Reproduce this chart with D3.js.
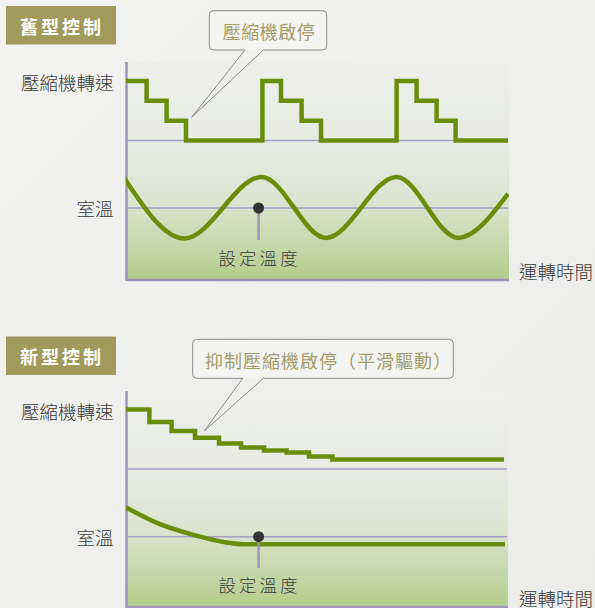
<!DOCTYPE html>
<html><head><meta charset="utf-8">
<script src="https://cdn.jsdelivr.net/npm/d3@7"></script>
<style>
html,body{margin:0;padding:0;background:#eeeeec;}
svg{display:block;}
text{font-family:"Noto Sans CJK TC","Noto Sans CJK SC",sans-serif;}
</style></head>
<body>
<svg id="c" width="595" height="608"></svg>
<script>
// ---------- data ----------
const panelTitles = ["舊型控制", "新型控制"];
const calloutTexts = ["壓縮機啟停", "抑制壓縮機啟停（平滑驅動）"];
const speedLabel = "壓縮機轉速";
const tempLabel = "室溫";
const timeLabel = "運轉時間";
const setpointLabel = "設定溫度";

// time in minutes (arbitrary units), speed level 0..3
const oldSpeedTimes  = [0, 10.3, 20.3, 30, 68.2, 77.5, 87.8, 97.5, 135.3, 145.3, 155.3, 164.8, 191];
const oldSpeedLevels = [3, 2, 1, 0, 3, 2, 1, 0, 3, 2, 1, 0, 0];
const newSpeedTimes  = [0, 11.7, 22.8, 34.5, 46.5, 57.5, 69, 80.3, 91.5, 103.2, 189];
const newSpeedLevels = [3.0, 2.37, 1.92, 1.58, 1.28, 1.08, 0.93, 0.83, 0.63, 0.48, 0.48];

// room temperature deviation from setpoint (relative units)
const oldTempTimes  = [-1, 29.2, 67.8, 100, 135.3, 166, 191];
const oldTempValues = [0.99, -1.0, 1.02, -0.98, 1.02, -0.98, 0.46];
const newTempTimes  = [0, 17, 33.7, 50.3, 58.7, 189.5];
const newTempValues = [0.96, 0.41, 0.06, -0.19, -0.25, -0.25];

const setpointTime = 66.3;
const setpointValue = 0;

// ---------- drawing ----------
const svg = d3.select("#c");
const green = "#6a8e0b", axisCol = "#9b94bb", gridCol = "#a49ec4";

const defs = svg.append("defs");
const bg = defs.append("linearGradient").attr("id","bg").attr("x1",0).attr("y1",0).attr("x2",1).attr("y2",1);
bg.append("stop").attr("offset","0%").attr("stop-color","#f2f2f1");
bg.append("stop").attr("offset","100%").attr("stop-color","#ececea");
svg.append("rect").attr("width",595).attr("height",608).attr("fill","url(#bg)");

const pg = defs.append("linearGradient").attr("id","pg").attr("x1",0).attr("y1",0).attr("x2",0).attr("y2",1);
[[0,"#eeefec"],[0.36,"#e8ebe3"],[0.65,"#dbe4cf"],[1,"#b2cd8b"]].forEach(([o,c])=>
  pg.append("stop").attr("offset",o).attr("stop-color",c));

const panels = [
  { top:0, plotTop:62, baseY:140.5, setY:208, bottom:280, right:509,
    speedT:oldSpeedTimes, speedV:oldSpeedLevels, tempT:oldTempTimes, tempV:oldTempValues,
    callout:{x:209.3,y:10.7,w:117.4,h:39.3,p1:245,p2:263.3,tipX:191.7,tipY:117.3,tx:269},
    stemEnd:240, setLblY:257 },
  { top:330.5, plotTop:391, baseY:469, setY:536.7, bottom:607, right:508,
    speedT:newSpeedTimes, speedV:newSpeedLevels, tempT:newTempTimes, tempV:newTempValues,
    callout:{x:192.7,y:339.3,w:260.6,h:39,p1:242.7,p2:263.3,tipX:204.3,tipY:431,tx:328.5},
    stemEnd:568, setLblY:584 }
];

const x = d3.scaleLinear().domain([0,191]).range([126,508]);

panels.forEach((P,i)=>{
  const g = svg.append("g");
  const ySpeed = d3.scaleLinear().domain([0,3]).range([P.baseY, P.baseY-59.5]);
  const yTemp = d3.scaleLinear().domain([-1,1]).range([P.setY+30.5, P.setY-30.5]);

  // title box
  g.append("rect").attr("x",6).attr("y",P.top+6).attr("width",110).attr("height",38.5).attr("fill","#a29a5d");
  g.append("text").attr("x",62).attr("y",P.top+25.5).attr("text-anchor","middle").attr("dominant-baseline","central")
    .attr("fill","#fff").attr("font-size",18).attr("font-weight","bold").attr("letter-spacing",3)
    .text(panelTitles[i]);

  // plot area
  const cid = "clip"+i;
  defs.append("clipPath").attr("id",cid).append("rect")
    .attr("x",126).attr("y",P.plotTop).attr("width",P.right-126).attr("height",P.bottom-P.plotTop);
  g.append("rect").attr("x",126).attr("y",P.plotTop).attr("width",P.right-126).attr("height",P.bottom-P.plotTop)
    .attr("fill","url(#pg)");

  // reference lines (speed baseline and setpoint)
  g.append("line").attr("x1",126).attr("x2",P.right-1).attr("y1",P.baseY).attr("y2",P.baseY)
    .attr("stroke",gridCol).attr("stroke-width",1.5);
  g.append("line").attr("x1",126).attr("x2",P.right-1).attr("y1",yTemp(setpointValue)).attr("y2",yTemp(setpointValue))
    .attr("stroke",gridCol).attr("stroke-width",1.5);

  // axes
  g.append("line").attr("x1",126.5).attr("x2",126.5).attr("y1",P.plotTop).attr("y2",P.bottom+1)
    .attr("stroke",axisCol).attr("stroke-width",2.5);
  g.append("line").attr("x1",126).attr("x2",P.right).attr("y1",P.bottom).attr("y2",P.bottom)
    .attr("stroke",axisCol).attr("stroke-width",2.5);

  // speed step line
  const sData = P.speedT.map((t,k)=>[t,P.speedV[k]]);
  g.append("path").attr("d", d3.line().x(d=>x(d[0])).y(d=>ySpeed(d[1])).curve(d3.curveStepAfter)(sData))
    .attr("fill","none").attr("stroke",green).attr("stroke-width",4.5).attr("stroke-linejoin","miter");

  // temperature curve
  const tData = P.tempT.map((t,k)=>[t,P.tempV[k]]);
  g.append("path").attr("clip-path",`url(#${cid})`)
    .attr("d", d3.line().x(d=>x(d[0])).y(d=>yTemp(d[1])).curve(d3.curveMonotoneX)(tData))
    .attr("fill","none").attr("stroke",green).attr("stroke-width",4.5).attr("stroke-linecap","butt");

  // setpoint marker
  const sx = x(setpointTime), sy = yTemp(setpointValue);
  g.append("line").attr("x1",sx).attr("x2",sx).attr("y1",sy).attr("y2",P.stemEnd)
    .attr("stroke","#9d97b5").attr("stroke-width",2.5);
  g.append("circle").attr("cx",sx).attr("cy",sy).attr("r",5.5).attr("fill","#333");
  g.append("text").attr("x",sx+1).attr("y",P.setLblY).attr("text-anchor","middle").attr("dominant-baseline","central")
    .attr("fill","#3a3a3a").attr("font-size",17.5).attr("font-weight",300).attr("letter-spacing",3).text(setpointLabel);

  // axis labels
  g.append("text").attr("x",113.5).attr("y",ySpeed(3)+1).attr("text-anchor","end").attr("dominant-baseline","central")
    .attr("fill","#3a3a3a").attr("font-size",18.5).attr("font-weight",300).text(speedLabel);
  g.append("text").attr("x",113.5).attr("y",yTemp(setpointValue)).attr("text-anchor","end").attr("dominant-baseline","central")
    .attr("fill","#3a3a3a").attr("font-size",18.5).attr("font-weight",300).text(tempLabel);
  g.append("text").attr("x",519).attr("y",P.bottom-9).attr("dominant-baseline","central")
    .attr("fill","#3a3a3a").attr("font-size",18.5).attr("font-weight",300).text(timeLabel);

  // callout
  const C = P.callout, r = 4, bx2 = C.x+C.w, by2 = C.y+C.h;
  g.append("rect").attr("x",C.x).attr("y",C.y).attr("width",C.w).attr("height",C.h).attr("rx",r)
    .attr("fill","#f4f4f2");
  const pth = `M${C.p2},${by2} L${bx2-r},${by2} Q${bx2},${by2} ${bx2},${by2-r} L${bx2},${C.y+r} Q${bx2},${C.y} ${bx2-r},${C.y}`+
    ` L${C.x+r},${C.y} Q${C.x},${C.y} ${C.x},${C.y+r} L${C.x},${by2-r} Q${C.x},${by2} ${C.x+r},${by2} L${C.p1},${by2}`+
    ` L${C.tipX},${C.tipY} L${C.p2},${by2}`;
  g.append("path").attr("d",pth).attr("fill","none").attr("stroke","#8a8a8a").attr("stroke-width",1);
  g.append("text").attr("x",C.tx).attr("y",C.y+C.h/2+1).attr("text-anchor","middle").attr("dominant-baseline","central")
    .attr("fill","#a39d6a").attr("font-size",18).attr("letter-spacing",i===1?1:0.5).text(calloutTexts[i]);
});
</script>
</body></html>
